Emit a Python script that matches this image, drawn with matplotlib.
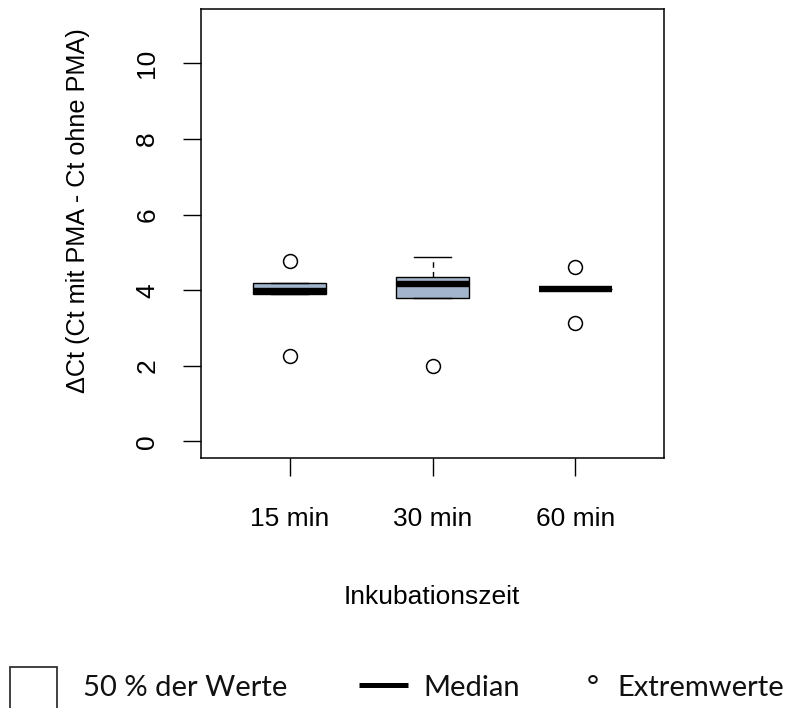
import matplotlib
matplotlib.use("Agg")
import matplotlib.pyplot as plt
from matplotlib.patches import Rectangle
from matplotlib.lines import Line2D

# Incubation groups and their box statistics (ΔCt values)
groups = ["15 min", "30 min", "60 min"]
q1 = [3.90, 3.80, 4.02]
med = [3.99, 4.17, 4.02]
q3 = [4.20, 4.35, 4.02]
whis_lo = [3.90, 3.80, 4.02]
whis_hi = [4.20, 4.88, 4.02]
outliers = [[4.77, 2.27], [1.99], [4.62, 3.13]]
y_ticks = [0, 2, 4, 6, 8, 10]

W, H = 790, 708
fig = plt.figure(figsize=(W / 100, H / 100), dpi=100)
ax = fig.add_axes([201 / W, 1 - 458 / H, (664 - 201) / W, (458 - 9) / H])

stats = []
for i in range(len(groups)):
    stats.append(dict(med=med[i], q1=q1[i], q3=q3[i], whislo=whis_lo[i],
                      whishi=whis_hi[i], fliers=outliers[i], label=groups[i]))

ax.bxp(stats, positions=[1, 2, 3], widths=0.51, patch_artist=True,
       boxprops=dict(facecolor="#A2B5CD", edgecolor="black", linewidth=1.0),
       medianprops=dict(color="black", linewidth=4.6, solid_capstyle="butt"),
       whiskerprops=dict(color="black", linewidth=1.0, linestyle=(0, (4, 3))),
       capprops=dict(color="black", linewidth=1.0),
       capwidths=0.26,
       flierprops=dict(marker="o", markerfacecolor="none", markeredgecolor="black",
                       markersize=10, markeredgewidth=1.1))

ax.set_xlim(0.38, 3.62)
ax.set_ylim(-0.44, 11.44)
ax.set_yticks(y_ticks)
ax.set_yticklabels([str(t) for t in y_ticks], rotation=90, va="center")
ax.tick_params(axis="both", length=13, width=1.0, labelsize=19, colors="black")
ax.tick_params(axis="y", pad=17)
ax.tick_params(axis="x", pad=22)
for s in ax.spines.values():
    s.set_linewidth(1.1)

fam = ["Liberation Sans", "DejaVu Sans"]
for lab in ax.get_xticklabels() + ax.get_yticklabels():
    lab.set_family(fam)

fig.text(78 / W, 1 - 211 / H, "ΔCt (Ct mit PMA - Ct ohne PMA)", rotation=90,
         ha="center", va="center", fontsize=18.2, family=fam)
fig.text(432 / W, 1 - 597 / H, "Inkubationszeit", ha="center", va="center",
         fontsize=19, family=fam)

# Legend row along the bottom edge
lfam = ["Lato", "DejaVu Sans"]
lsize = 21
fig.patches.append(Rectangle((10 / W, 1 - 720 / H), 47 / W, 53 / H,
                             transform=fig.transFigure, fill=False,
                             edgecolor="#333333", linewidth=1.3))
fig.text(83 / W, 1 - 696 / H, "50 % der Werte", ha="left", va="baseline",
         fontsize=lsize, family=lfam, color="#111111")
fig.lines.append(Line2D([359 / W, 408 / W], [1 - 685 / H, 1 - 685 / H],
                        transform=fig.transFigure, color="black", linewidth=3.6,
                        solid_capstyle="butt"))
fig.text(423 / W, 1 - 696 / H, "Median", ha="left", va="baseline",
         fontsize=lsize, family=lfam, color="#111111")
fig.text(587 / W, 1 - 696 / H, "°", ha="left", va="baseline",
         fontsize=lsize, family=lfam, color="#111111")
fig.text(617 / W, 1 - 696 / H, "Extremwerte", ha="left", va="baseline",
         fontsize=lsize, family=lfam, color="#111111")

fig.savefig("out.png", dpi=100)
